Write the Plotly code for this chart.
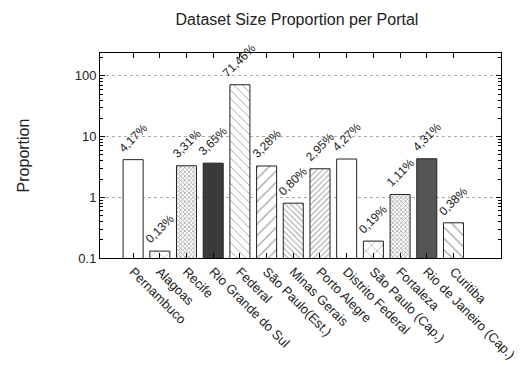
import math
import plotly.graph_objects as go

portals = ["Pernambuco", "Alagoas", "Recife", "Rio Grande do Sul", "Federal",
           "São Paulo(Est.)", "Minas Gerais", "Porto Alegre", "Distrito Federal",
           "São Paulo (Cap.)", "Fortaleza", "Rio de Janeiro (Cap.)", "Curitiba"]
proportions = [4.17, 0.13, 3.31, 3.65, 71.46, 3.28, 0.80, 2.95, 4.27, 0.19, 1.11, 4.31, 0.38]
value_labels = ["4,17%", "0,13%", "3,31%", "3,65%", "71,46%", "3,28%", "0,80%",
                "2,95%", "4,27%", "0,19%", "1,11%", "4,31%", "0,38%"]
y_tickvals = [0.1, 1, 10, 100]
y_ticktext = ["0.1", "1", "10", "100"]

colors = ["white", "white", "white", "#3a3a3a", "white", "white", "white",
          "white", "white", "white", "white", "#555555", "white"]
shapes = ["", "x", "x", "", "\\", "/", "\\", "/", "", "x", "x", "", "\\"]
fgcols = ["black", "#444444", "#888888", "black", "#999999", "#333333", "#777777",
          "#555555", "black", "#333333", "#999999", "black", "#333333"]
psizes = [8, 10, 3, 8, 6, 8, 4, 4, 8, 8, 3, 8, 8]
solid = [0.2, 0.12, 0.45, 0.2, 0.15, 0.15, 0.25, 0.25, 0.2, 0.15, 0.45, 0.2, 0.15]

x = list(range(len(portals)))
fig = go.Figure()
fig.add_trace(go.Bar(
    x=x, y=proportions, width=0.75,
    marker=dict(color=colors, line=dict(color="#222222", width=1),
                pattern=dict(shape=shapes, fgcolor=fgcols, bgcolor=colors,
                             size=psizes, solidity=solid, fillmode="overlay")),
    showlegend=False, hoverinfo="skip"))

for xi, v, t in zip(x, proportions, value_labels):
    fig.add_annotation(x=xi, y=math.log10(v), text=t, textangle=-45, showarrow=False,
                       xanchor="center", yanchor="bottom", yshift=2,
                       font=dict(family="Liberation Sans, Arial", size=12, color="#222"))

fig.update_layout(
    width=521, height=365,
    margin=dict(l=100, r=20, t=53, b=107),
    paper_bgcolor="white", plot_bgcolor="white",
    title=dict(text="Dataset Size Proportion per Portal", x=0.57, xanchor="center",
               y=0.948, yanchor="middle",
               font=dict(family="Liberation Sans, Arial", size=16, color="#222")),
    font=dict(family="Liberation Sans, Arial", size=12, color="#222"),
)
fig.update_xaxes(range=[-1.24, 13.78], tickvals=x, ticktext=portals, tickangle=45,
                 showline=True, linecolor="black", linewidth=1, mirror="ticks",
                 ticks="inside", ticklen=5, tickcolor="black", showgrid=False,
                 zeroline=False, tickfont=dict(size=13), automargin=False)
fig.update_yaxes(type="log", range=[-1, 2.377], tickvals=y_tickvals, ticktext=y_ticktext,
                 showline=True, linecolor="black", linewidth=1, mirror="ticks",
                 ticks="inside", ticklen=5, tickcolor="black",
                 showgrid=True, gridcolor="#aaaaaa", griddash="dot", gridwidth=1,
                 minor=dict(ticks="inside", ticklen=3, tickcolor="black", showgrid=False,
                            tickvals=[m * 10 ** e for e in (-1, 0, 1, 2) for m in range(2, 10)]),
                 title=dict(text="Proportion", standoff=41, font=dict(size=16)),
                 tickfont=dict(size=13), automargin=False)

fig.write_html("out.html", config={"displayModeBar": False},
               post_script="document.body.style.margin='0';")
